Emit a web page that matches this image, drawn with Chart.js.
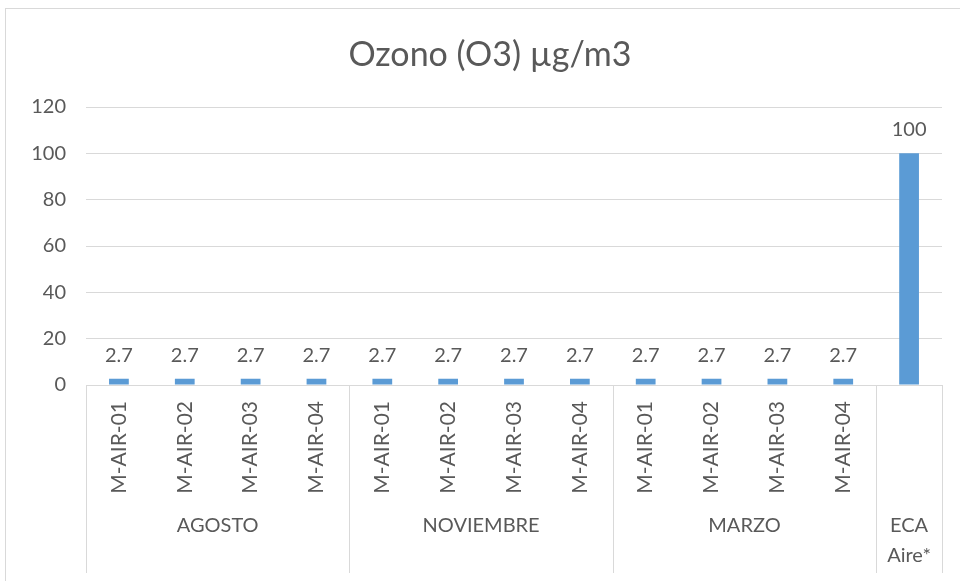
<!DOCTYPE html>
<html>
<head>
<meta charset="utf-8">
<script src="https://cdn.jsdelivr.net/npm/chart.js@4"></script>
<style>
  html, body { margin: 0; padding: 0; background: #fff; }
  #wrap { width: 960px; height: 581px; }
</style>
</head>
<body>
<div id="wrap"><canvas id="chart" width="960" height="581"></canvas></div>
<script>
var stations = [ 'M-AIR-01', 'M-AIR-02', 'M-AIR-03', 'M-AIR-04',
                 'M-AIR-01', 'M-AIR-02', 'M-AIR-03', 'M-AIR-04',
                 'M-AIR-01', 'M-AIR-02', 'M-AIR-03', 'M-AIR-04', '' ];
var months = [ 'AGOSTO', 'AGOSTO', 'AGOSTO', 'AGOSTO',
               'NOVIEMBRE', 'NOVIEMBRE', 'NOVIEMBRE', 'NOVIEMBRE',
               'MARZO', 'MARZO', 'MARZO', 'MARZO', 'ECA\nAire*' ];
var values = [ 2.7, 2.7, 2.7, 2.7, 2.7, 2.7, 2.7, 2.7, 2.7, 2.7, 2.7, 2.7, 100 ];
var yMax = 120;
var yStep = 20;
var title = 'Ozono (O3) µg/m3';

var textColor = '#595959';
var lineColor = '#d9d9d9';
var barColor = '#5b9bd5';
var fontFamily = 'Lato, "Open Sans", sans-serif';

// runs of equal month labels -> groups on the lower axis row
var groups = [];
months.forEach((m, i) => {
  var last = groups[groups.length - 1];
  if (last && last.label === m) last.end = i;
  else groups.push({ label: m, start: i, end: i });
});

var axisPlugin = {
  id: 'excelAxis',
  beforeDraw: (chart) => {
    var ctx = chart.ctx;
    ctx.save();
    ctx.strokeStyle = lineColor;
    ctx.lineWidth = 1;
    ctx.strokeRect(5.5, 8.5, 1000, 1000);
    // title, centred like the Excel chart (over the whole frame)
    ctx.fillStyle = textColor;
    ctx.font = '34px ' + fontFamily;
    ctx.textAlign = 'center';
    ctx.textBaseline = 'middle';
    ctx.fillText(title, 490, 55);
    ctx.restore();
  },
  afterDraw: (chart) => {
    var ctx = chart.ctx;
    var x = chart.scales.x;
    var area = chart.chartArea;
    var meta = chart.getDatasetMeta(0);
    var half = (x.getPixelForValue(1) - x.getPixelForValue(0)) / 2;
    ctx.save();
    ctx.fillStyle = textColor;
    ctx.font = '20px ' + fontFamily;

    // value labels
    ctx.textAlign = 'center';
    ctx.textBaseline = 'alphabetic';
    meta.data.forEach((bar, i) => {
      ctx.fillText(String(values[i]), bar.x, bar.y - 17);
    });

    // rotated station labels
    ctx.font = '21px ' + fontFamily;
    stations.forEach((s, i) => {
      if (!s) return;
      ctx.save();
      ctx.translate(x.getPixelForValue(i), area.bottom + 16);
      ctx.rotate(-Math.PI / 2);
      ctx.textAlign = 'right';
      ctx.textBaseline = 'middle';
      ctx.fillText(s, 0, 0);
      ctx.restore();
    });

    // group labels and separators
    ctx.font = '20px ' + fontFamily;
    ctx.strokeStyle = lineColor;
    ctx.lineWidth = 1;
    ctx.textAlign = 'center';
    ctx.textBaseline = 'middle';
    groups.forEach((g) => {
      var left = x.getPixelForValue(g.start) - half;
      var right = x.getPixelForValue(g.end) + half;
      g.label.split('\n').forEach((line, li) => {
        ctx.fillText(line, (left + right) / 2, area.bottom + 141 + li * 30);
      });
      [left, right].forEach((px) => {
        px = Math.round(px) + 0.5;
        ctx.beginPath();
        ctx.moveTo(px, area.bottom);
        ctx.lineTo(px, area.bottom + 188);
        ctx.stroke();
      });
    });
    ctx.restore();
  }
};

var chart = new Chart(document.getElementById('chart'), {
  type: 'bar',
  data: {
    labels: stations,
    datasets: [{
      data: values,
      backgroundColor: barColor,
      categoryPercentage: 1,
      barPercentage: 0.3
    }]
  },
  options: {
    responsive: false,
    animation: false,
    layout: {
      padding: { left: 0, right: 18, top: 107, bottom: 0 }
    },
    plugins: {
      legend: { display: false },
      tooltip: { enabled: false },
      title: { display: false }
    },
    scales: {
      x: {
        ticks: { display: false },
        grid: { display: false },
        border: { display: false },
        afterFit: (scale) => { scale.height = 196; }
      },
      y: {
        min: 0,
        max: yMax,
        ticks: {
          stepSize: yStep,
          color: textColor,
          padding: 20,
          font: { family: fontFamily, size: 20 }
        },
        grid: { color: lineColor, drawTicks: false },
        border: { display: false },
        afterFit: (scale) => { scale.width = 86; }
      }
    }
  },
  plugins: [axisPlugin]
});
</script>
</body>
</html>
